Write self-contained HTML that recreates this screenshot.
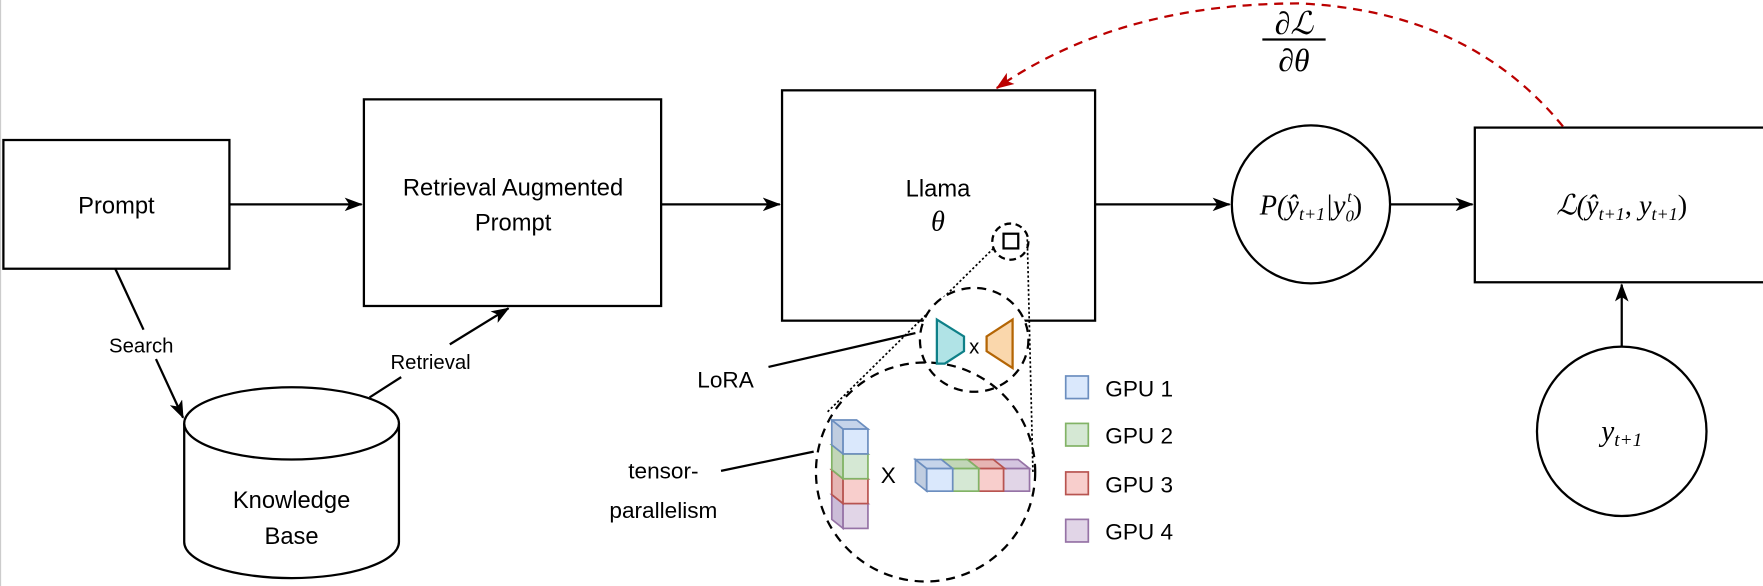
<!DOCTYPE html>
<html><head><meta charset="utf-8"><style>
html,body{margin:0;padding:0;background:#fff;}
svg{display:block;}
text{font-family:"Liberation Sans",sans-serif;fill:#000;}
.m{font-family:"Liberation Serif",serif;font-style:italic;}
</style></head><body>
<svg width="1763" height="586" viewBox="0 0 1560 519" preserveAspectRatio="none" xmlns="http://www.w3.org/2000/svg">
<defs>
<marker id="ar" markerWidth="16" markerHeight="12" refX="15" refY="6" orient="auto" markerUnits="userSpaceOnUse"><path d="M0,0 L16,6 L0,12 L4,6 Z" fill="#000"/></marker>
<marker id="arr" markerWidth="16" markerHeight="12" refX="15" refY="6" orient="auto" markerUnits="userSpaceOnUse"><path d="M0,0 L16,6 L0,12 L4,6 Z" fill="#b00"/></marker>
</defs>
<line x1="0.5" y1="0" x2="0.5" y2="519" stroke="#ccc" stroke-width="1"/>
<g stroke="#000" stroke-width="2" fill="none">
<rect x="3" y="124" width="200" height="114" fill="#fff"/>
<rect x="322" y="88" width="263" height="183" fill="#fff"/>
<rect x="692" y="80" width="277" height="204" fill="#fff"/>
<circle cx="1160" cy="181" r="70" fill="#fff"/>
<rect x="1305" y="113" width="261" height="137" fill="#fff"/>
<circle cx="1435" cy="382" r="75" fill="#fff"/>
<line x1="203" y1="181" x2="320" y2="181" marker-end="url(#ar)"/>
<line x1="585" y1="181" x2="690" y2="181" marker-end="url(#ar)"/>
<line x1="969" y1="181" x2="1088" y2="181" marker-end="url(#ar)"/>
<line x1="1230" y1="181" x2="1303" y2="181" marker-end="url(#ar)"/>
<line x1="1435" y1="307" x2="1435" y2="252" marker-end="url(#ar)"/>
<path d="M163,375 L163,480 A95,32 0 0 0 353,480 L353,375" fill="#fff"/>
<ellipse cx="258" cy="375" rx="95" ry="32" fill="#fff"/>
<line x1="102" y1="238" x2="127" y2="292"/>
<line x1="138" y1="318" x2="162" y2="370" marker-end="url(#ar)"/>
<line x1="327" y1="352" x2="355" y2="334"/>
<line x1="398" y1="305" x2="450" y2="273" marker-end="url(#ar)"/>
<line x1="680" y1="325" x2="810" y2="295"/>
<line x1="638" y1="417" x2="720" y2="400"/>
</g>
<path d="M1383,112 Q1300,10 1150,3 Q990,3 882,78" stroke="#b00" stroke-width="2" stroke-dasharray="8,6" fill="none" marker-end="url(#arr)"/>
<text x="103" y="189" font-size="21" text-anchor="middle">Prompt</text>
<text x="454" y="173" font-size="21" text-anchor="middle">Retrieval Augmented</text>
<text x="454" y="204" font-size="21" text-anchor="middle">Prompt</text>
<text x="830" y="174" font-size="21" text-anchor="middle">Llama</text>
<text x="830" y="204" font-size="25" text-anchor="middle" class="m">θ</text>
<text x="258" y="450" font-size="21" text-anchor="middle">Knowledge</text>
<text x="258" y="482" font-size="21" text-anchor="middle">Base</text>
<rect x="88" y="293" width="76" height="24" fill="#fff"/>
<text x="125" y="312" font-size="18" text-anchor="middle">Search</text>
<rect x="334" y="308" width="96" height="24" fill="#fff"/>
<text x="381" y="327" font-size="18" text-anchor="middle">Retrieval</text>
<text x="1160" y="190" font-size="25" text-anchor="middle" class="m">P(ŷ<tspan font-size="16" dy="5">t+1</tspan><tspan dy="-5">|y</tspan><tspan font-size="15" dy="6">0</tspan><tspan font-size="14" dx="-6" dy="-17">t</tspan><tspan dy="11" dx="1" font-style="normal">)</tspan></text>
<text x="1435" y="190" font-size="25" text-anchor="middle" class="m">ℒ(ŷ<tspan font-size="16" dy="5">t+1</tspan><tspan dy="-5" font-style="normal">, </tspan>y<tspan font-size="16" dy="5">t+1</tspan><tspan dy="-5" font-style="normal">)</tspan></text>
<text x="1435" y="390" font-size="26" text-anchor="middle" class="m">y<tspan font-size="17" dy="5">t+1</tspan></text>
<text x="1145" y="30" font-size="28" text-anchor="middle" class="m">∂ℒ</text>
<line x1="1117" y1="35" x2="1173" y2="35" stroke="#000" stroke-width="2"/>
<text x="1145" y="63" font-size="28" text-anchor="middle" class="m">∂θ</text>
<text x="617" y="343" font-size="20">LoRA</text>
<text x="587" y="424" font-size="20" text-anchor="middle">tensor-</text>
<text x="587" y="459" font-size="20" text-anchor="middle">parallelism</text>
<g fill="none" stroke="#000">
<circle cx="894" cy="214" r="16" stroke-width="2" stroke-dasharray="6,4"/>
<rect x="888" y="207" width="13" height="13" stroke-width="2"/>
<line x1="879" y1="220" x2="732" y2="365" stroke-width="1.5" stroke-dasharray="2,2"/>
<line x1="909" y1="212" x2="914" y2="418" stroke-width="1.5" stroke-dasharray="2,2"/>
<ellipse cx="862" cy="301" rx="48" ry="46" stroke-width="2" stroke-dasharray="8,6" fill="#fff"/>
<ellipse cx="819" cy="418" rx="97" ry="97" stroke-width="2" stroke-dasharray="8,6"/>
</g>
<path d="M829,283 L853,298 L853,311 L836,322 L829,322 Z" fill="#b0e3e6" stroke="#0e8088" stroke-width="2"/>
<path d="M896,283 L873,298 L873,311 L896,326 Z" fill="#fad7ac" stroke="#b46504" stroke-width="2"/>
<text x="862" y="313" font-size="18" text-anchor="middle">x</text>
<text x="786" y="428" font-size="20" text-anchor="middle">X</text>
<g stroke-width="1.5">
<g stroke="#9673a6"><path d="M736,438 l10,8 v22 l-10,-8 z" fill="#cbbcd8"/><path d="M736,438 h22 l10,8 h-22 z" fill="#d4c5e0"/><rect x="746" y="446" width="22" height="22" fill="#e1d5e7"/></g>
<g stroke="#b85450"><path d="M736,416 l10,8 v22 l-10,-8 z" fill="#e6b5b3"/><path d="M736,416 h22 l10,8 h-22 z" fill="#edbcba"/><rect x="746" y="424" width="22" height="22" fill="#f8cecc"/></g>
<g stroke="#82b366"><path d="M736,394 l10,8 v22 l-10,-8 z" fill="#c2d6b8"/><path d="M736,394 h22 l10,8 h-22 z" fill="#cbdfc0"/><rect x="746" y="402" width="22" height="22" fill="#d5e8d4"/></g>
<g stroke="#6c8ebf"><path d="M736,372 l10,8 v22 l-10,-8 z" fill="#c0cde0"/><path d="M736,372 h22 l10,8 h-22 z" fill="#c6d4ea"/><rect x="746" y="380" width="22" height="22" fill="#dae8fc"/></g>
<g stroke="#9673a6"><path d="M878,407 h23 l10,8 h-23 z" fill="#d4c5e0"/><rect x="888" y="415" width="23" height="20" fill="#e1d5e7"/></g>
<g stroke="#b85450"><path d="M856,407 h23 l10,8 h-23 z" fill="#e6b5b3"/><rect x="866" y="415" width="22" height="20" fill="#f8cecc"/></g>
<g stroke="#82b366"><path d="M833,407 h23 l10,8 h-23 z" fill="#c2d6b8"/><rect x="843" y="415" width="23" height="20" fill="#d5e8d4"/></g>
<g stroke="#6c8ebf"><path d="M810,407 l10,8 v20 l-10,-8 z" fill="#c0cde0"/><path d="M810,407 h23 l10,8 h-23 z" fill="#c6d4ea"/><rect x="820" y="415" width="23" height="20" fill="#dae8fc"/></g>
</g>
<g stroke-width="1.5">
<rect x="943" y="333" width="20" height="20" fill="#dae8fc" stroke="#6c8ebf"/>
<rect x="943" y="375" width="20" height="20" fill="#d5e8d4" stroke="#82b366"/>
<rect x="943" y="418" width="20" height="20" fill="#f8cecc" stroke="#b85450"/>
<rect x="943" y="460" width="20" height="20" fill="#e1d5e7" stroke="#9673a6"/>
</g>
<text x="978" y="351" font-size="20">GPU 1</text>
<text x="978" y="393" font-size="20">GPU 2</text>
<text x="978" y="436" font-size="20">GPU 3</text>
<text x="978" y="478" font-size="20">GPU 4</text>
</svg>
</body></html>
